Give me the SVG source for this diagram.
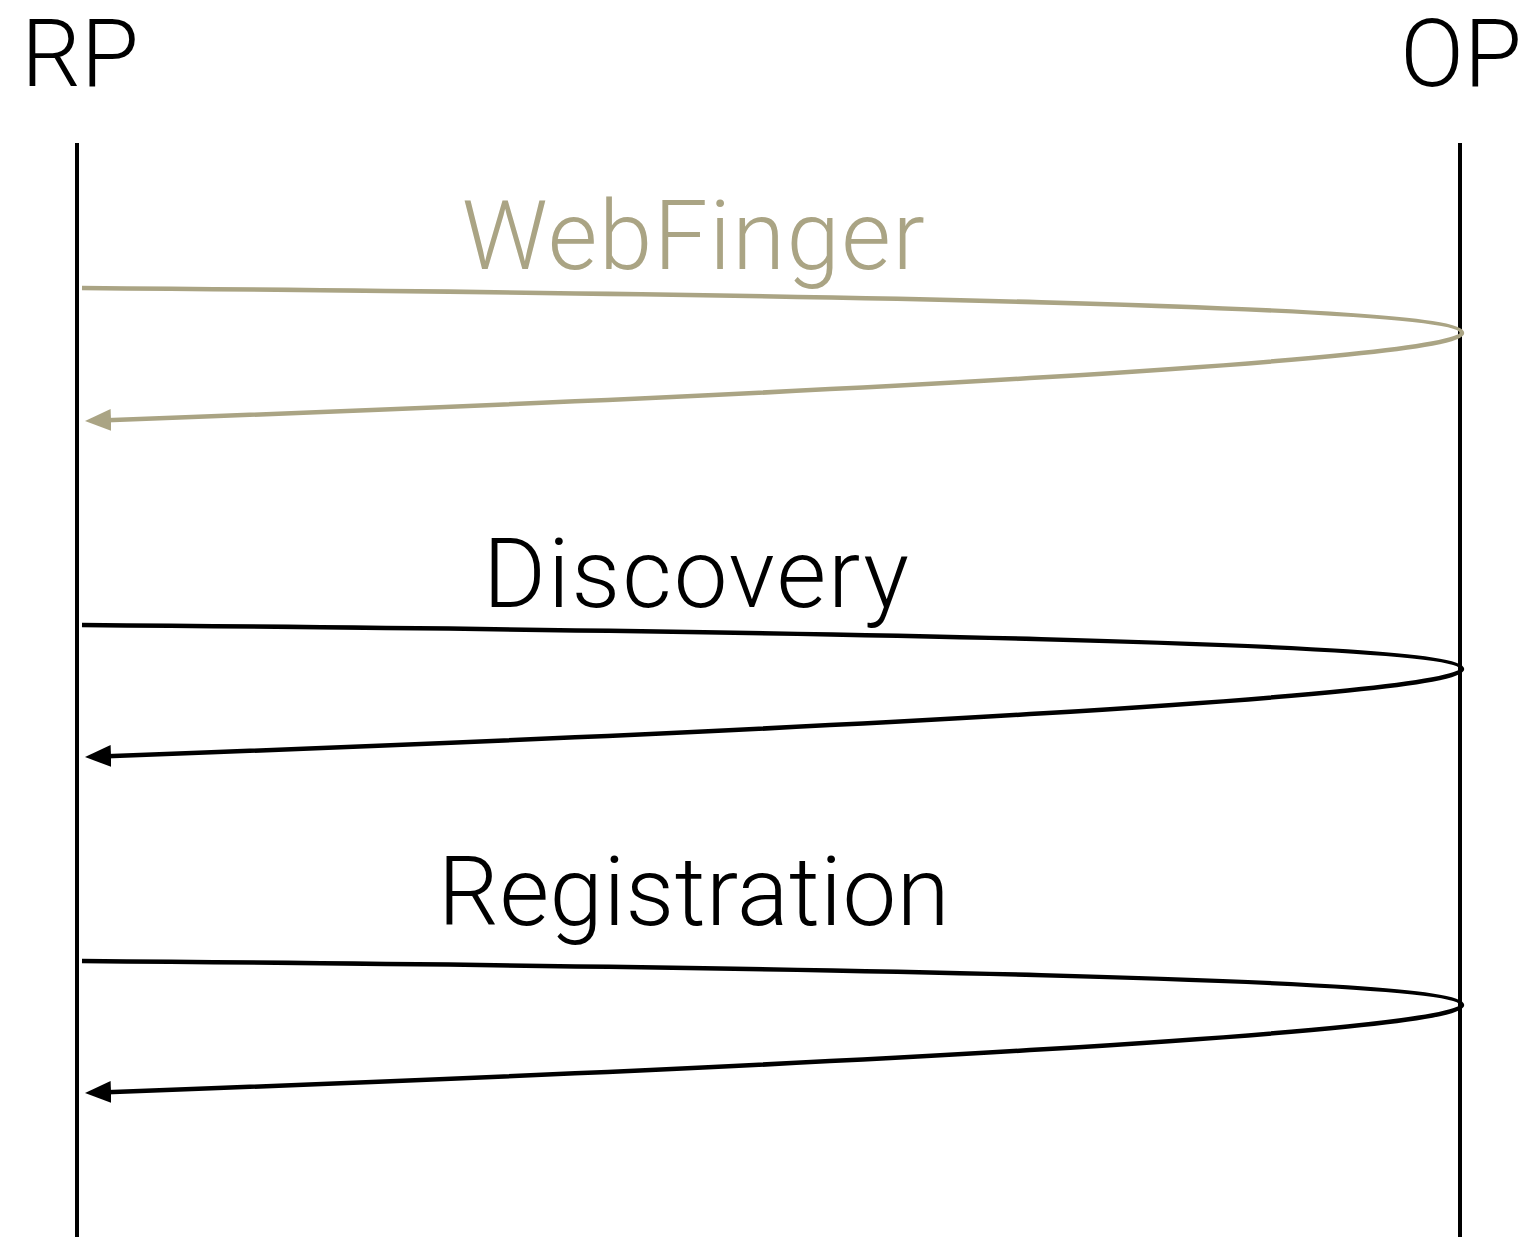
<svg xmlns="http://www.w3.org/2000/svg" width="1534" height="1237" viewBox="0 0 1534 1237">
<style>
.lbl{font-family:Roboto,"Liberation Sans",sans-serif;font-weight:300;font-size:96px}
.hd{font-size:94px}
.life{stroke:#000;stroke-width:4;fill:none}
.msg{fill:none;stroke-width:4.5}
.wf{stroke:#aaa484}
.blk{stroke:#000}
</style>
<defs>
<marker id="ahw" markerUnits="userSpaceOnUse" markerWidth="30" markerHeight="24" viewBox="0 0 30 24" refX="11" refY="12" orient="auto">
<path d="M26,12 L0,1 L0,23 Z" fill="#aaa484"/>
</marker>
<marker id="ahb" markerUnits="userSpaceOnUse" markerWidth="30" markerHeight="24" viewBox="0 0 30 24" refX="11" refY="12" orient="auto">
<path d="M26,12 L0,1 L0,23 Z" fill="#000"/>
</marker>
</defs>
<rect width="1534" height="1237" fill="#fff"/>
<g id="rp">
<text class="lbl hd" x="80" y="86" text-anchor="middle">RP</text>
<line class="life" x1="77" y1="143" x2="77" y2="1237"/>
</g>
<g id="op">
<text class="lbl hd" x="1461" y="86" text-anchor="middle">OP</text>
<line class="life" x1="1460" y1="143" x2="1460" y2="1237"/>
</g>
<g id="connectors">
<path class="msg wf" d="M82,288 C800,294 1462,305 1462,333 C1462,360 800,395 100,420.4" marker-end="url(#ahw)"/>
<path class="msg blk" d="M82,625 C800,631 1462,642 1462,669 C1462,696 800,731 100,756.4" marker-end="url(#ahb)"/>
<path class="msg blk" d="M82,961 C800,967 1462,978 1462,1005 C1462,1032 800,1067 100,1092.4" marker-end="url(#ahb)"/>
</g>
<g id="labels">
<text class="lbl" x="694" y="269" text-anchor="middle" fill="#aaa484" letter-spacing="1.5">WebFinger</text>
<text class="lbl" x="697" y="607" text-anchor="middle" letter-spacing="2">Discovery</text>
<text class="lbl" x="694" y="925" text-anchor="middle" letter-spacing="0.5">Registration</text>
</g>
</svg>
